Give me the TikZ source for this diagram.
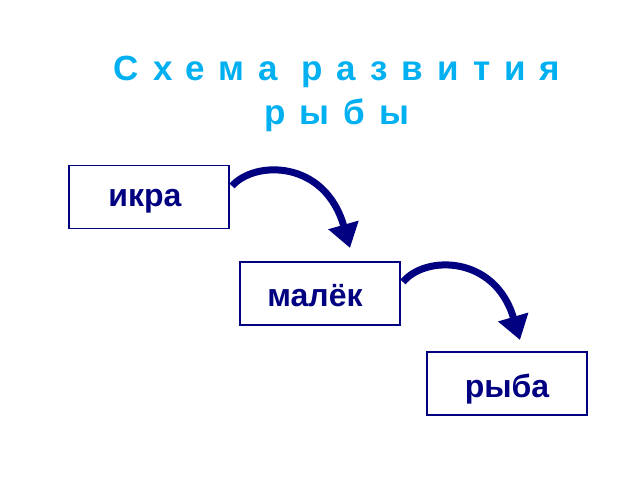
\documentclass[tikz,border=0pt]{standalone}
\usepackage{fontspec}
\setmainfont{Liberation Sans}
\usetikzlibrary{arrows.meta}
\definecolor{navy}{HTML}{000080}
\definecolor{ttl}{HTML}{00B0F0}
\begin{document}
\begin{tikzpicture}[x=1pt,y=-1pt,
  box/.style={draw=navy,line width=1.5pt,minimum width=160pt,minimum height=63pt,inner sep=0pt},
  lbl/.style={text=navy,font=\fontsize{32}{34}\selectfont\bfseries},
  arr/.style={draw=navy,line width=7pt,-{Triangle[length=24pt,width=30pt]}}]
\useasboundingbox (0,0) rectangle (640,480);
\fill[white] (0,0) rectangle (640,480);
\node[text=ttl,font=\fontsize{35}{44}\selectfont\bfseries\addfontfeatures{LetterSpace=40},align=center] (t) at (337,94) {Схема развития\\рыбы};
\node[box] (a) at (149,197) {};
\node[lbl] (at) at (145,201) {икра};
\node[box] (b) at (320,293.5) {};
\node[lbl] (bt) at (315,296) {малёк};
\node[box] (c) at (507,383.5) {};
\node[lbl] (ct) at (507,389) {рыба};
\coordinate (a1) at (232,186);
\coordinate (a2) at (350,248);
\coordinate (b1) at (403,282);
\coordinate (b2) at (520,340);
\draw[arr] (a1) .. controls (255,160) and (325,160) .. (a2);
\draw[arr] (b1) .. controls (425,255) and (495,255) .. (b2);
\end{tikzpicture}
\end{document}
